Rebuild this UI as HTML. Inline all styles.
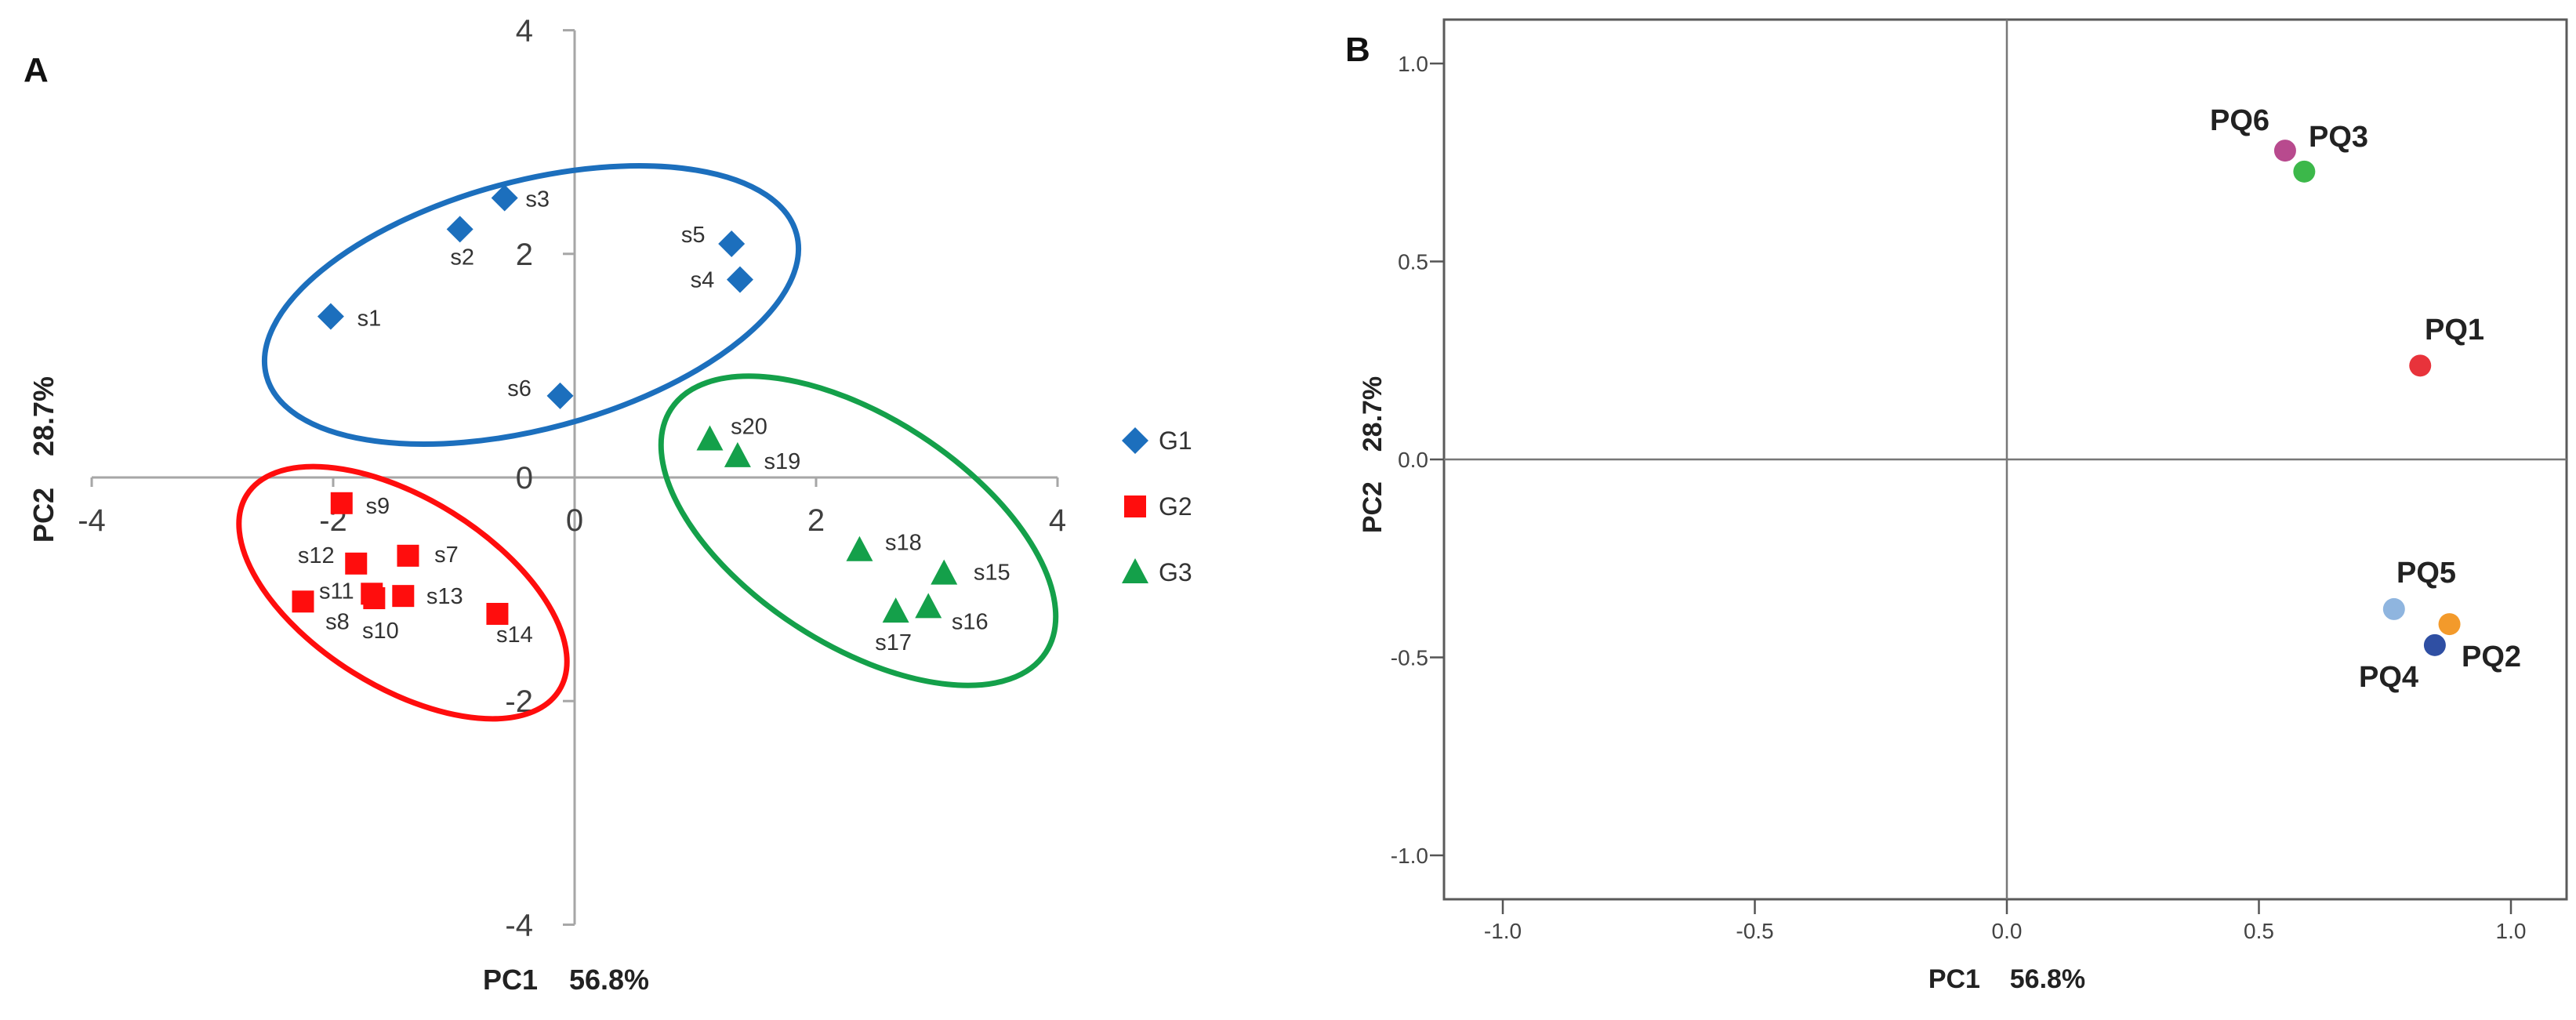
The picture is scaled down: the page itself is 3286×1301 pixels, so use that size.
<!DOCTYPE html>
<html><head><meta charset="utf-8"><style>
html,body{margin:0;padding:0;background:#fff;}
svg{display:block;font-family:"Liberation Sans",Arial,sans-serif;}
</style></head><body>
<svg id="chart" width="3286" height="1301" viewBox="0 0 3286 1301" xmlns="http://www.w3.org/2000/svg">
<g id="panelA"></g>
<g id="panelB"></g>
</svg>
<script>
// ---- Panel A data ----
const sampleNames = ["s1","s2","s3","s4","s5","s6","s7","s8","s9","s10","s11","s12","s13","s14","s15","s16","s17","s18","s19","s20"];
const samplePC1 = [-2.02,-0.95,-0.58,1.37,1.30,-0.12,-1.38,-2.25,-1.93,-1.66,-1.68,-1.81,-1.42,-0.64,3.06,2.93,2.66,2.36,1.35,1.12];
const samplePC2 = [1.44,2.22,2.50,1.77,2.09,0.73,-0.70,-1.11,-0.23,-1.08,-1.04,-0.77,-1.06,-1.22,-0.86,-1.16,-1.20,-0.65,0.19,0.34];
const sampleGroup = ["G1","G1","G1","G1","G1","G1","G2","G2","G2","G2","G2","G2","G2","G2","G3","G3","G3","G3","G3","G3"];
const groupNames = ["G1","G2","G3"];
const axisATicks = [-4,-2,0,2,4];
// ---- Panel B data ----
const varNames = ["PQ1","PQ2","PQ3","PQ4","PQ5","PQ6"];
const varPC1 = [0.82,0.878,0.59,0.849,0.768,0.552];
const varPC2 = [0.237,-0.416,0.727,-0.469,-0.378,0.78];
const axisBTicks = [-1.0,-0.5,0.0,0.5,1.0];

// styling (not data)
const labelOffsets = [[49,2],[3,35],[42,1],[-48,0],[-49,-12],[-52,-10],[49,-2],[44,25],[46,3],[8,41],[-45,-4],[-51,-11],[53,0],[22,26],[61,-2],[53,18],[-3,39],[56,-10],[57,6],[50,-17]];
const groupColors = {G1:"#1c6fbd",G2:"#ff0d0d",G3:"#14a04a"};
const varColors = ["#e8333b","#f39a2b","#3cb84a","#2f4fa3","#8fb5df","#b84a8e"];
const varLabelPos = [[3093,433,"start"],[3140,850,"start"],[2945,187,"start"],[3009,876,"start"],[3057,743,"start"],[2819,166,"start"]];

const NS="http://www.w3.org/2000/svg";
function mk(tag, attrs, parent){const e=document.createElementNS(NS,tag);for(const k in attrs)e.setAttribute(k,attrs[k]);parent.appendChild(e);return e;}

const A=document.getElementById('panelA');
const xA=v=>733+v*154, yA=v=>609-v*142.6;
let e=mk('line',{x1:xA(-4),y1:yA(0),x2:xA(4),y2:yA(0),stroke:'#a6a6a6','stroke-width':3},A);


e=mk('line',{x1:xA(0),y1:yA(4),x2:xA(0),y2:yA(-4),stroke:'#a6a6a6','stroke-width':3},A);


axisATicks.forEach(t=>{
  let l=mk('line',{x1:xA(t),y1:yA(0),x2:xA(t),y2:yA(0)+12,stroke:'#a6a6a6','stroke-width':3},A);
  
  
  l=mk('line',{x1:xA(0)-15,y1:yA(t),x2:xA(0),y2:yA(t),stroke:'#a6a6a6','stroke-width':3},A);
  
  
  let tx=mk('text',{x:xA(t),y:yA(0)+68,'text-anchor':'middle','font-size':40,fill:'#404040'},A);
  tx.textContent=String(t);
  
  
  tx=mk('text',{x:680,y:yA(t)+14,'text-anchor':'end','font-size':40,fill:'#404040'},A);
  tx.textContent=String(t);
  
  
});
[["G1",678,389,350,158,-15],["G2",514,756,235,120,32],["G3",1095,677,285,145,33]].forEach(g=>{
  const el=mk('ellipse',{cx:g[1],cy:g[2],rx:g[3],ry:g[4],transform:`rotate(${g[5]} ${g[1]} ${g[2]})`,fill:'none',stroke:groupColors[g[0]],'stroke-width':7},A);
  
  
});
function marker(g,cx,cy,parent){
  const c=groupColors[g];
  if(g==="G1") return mk('polygon',{points:`${cx},${cy-17} ${cx+17},${cy} ${cx},${cy+17} ${cx-17},${cy}`,fill:c},parent);
  if(g==="G2") return mk('rect',{x:cx-14,y:cy-14,width:28,height:28,fill:c},parent);
  return mk('polygon',{points:`${cx},${cy-18} ${cx+17},${cy+14} ${cx-17},${cy+14}`,fill:c},parent);
}
sampleNames.forEach((n,i)=>{
  const cx=xA(samplePC1[i]), cy=yA(samplePC2[i]);
  const m=marker(sampleGroup[i],cx,cy,A);
  
  
  const t=mk('text',{x:cx+labelOffsets[i][0],y:cy+labelOffsets[i][1]+10,'text-anchor':'middle','font-size':29,fill:'#333'},A);
  t.textContent=n;
  
  
});
groupNames.forEach((g,i)=>{
  const cy=562+i*84;
  const m=marker(g,1448,cy,A);
  
  
  const t=mk('text',{x:1478,y:cy+11,'font-size':32,fill:'#333'},A);
  t.textContent=g;
  
  
});
e=mk('text',{x:30,y:104,'font-size':44,'font-weight':'bold',fill:'#111'},A);e.textContent='A';


e=mk('text',{x:0,y:0,transform:'translate(68,586) rotate(-90)','text-anchor':'middle','font-size':36,'font-weight':'bold',fill:'#222'},A);e.textContent='PC2\u00a0\u00a0\u00a0\u00a028.7%';


e=mk('text',{x:722,y:1262,'text-anchor':'middle','font-size':36,'font-weight':'bold',fill:'#222'},A);e.textContent='PC1\u00a0\u00a0\u00a0\u00a056.8%';



// ---- Panel B ----
const B=document.getElementById('panelB');
const xB=v=>2560+v*643, yB=v=>586-v*505;
e=mk('rect',{x:1842,y:25,width:1432,height:1122,fill:'none',stroke:'#5a5a5a','stroke-width':3},B);


e=mk('line',{x1:1842,y1:yB(0),x2:3274,y2:yB(0),stroke:'#777','stroke-width':2.5},B);


e=mk('line',{x1:xB(0),y1:25,x2:xB(0),y2:1147,stroke:'#777','stroke-width':2.5},B);


axisBTicks.forEach(t=>{
  let l=mk('line',{x1:xB(t),y1:1147,x2:xB(t),y2:1166,stroke:'#555','stroke-width':2.5},B);
  
  
  l=mk('line',{x1:1824,y1:yB(t),x2:1842,y2:yB(t),stroke:'#555','stroke-width':2.5},B);
  
  
  let tx=mk('text',{x:xB(t),y:1197,'text-anchor':'middle','font-size':28,fill:'#444'},B);
  tx.textContent=t.toFixed(1);
  
  
  tx=mk('text',{x:1822,y:yB(t)+10,'text-anchor':'end','font-size':28,fill:'#444'},B);
  tx.textContent=t.toFixed(1);
  
  
});
varNames.forEach((n,i)=>{
  const c=mk('circle',{cx:xB(varPC1[i]),cy:yB(varPC2[i]),r:14,fill:varColors[i]},B);
  
  
  const p=varLabelPos[i];
  const t=mk('text',{x:p[0],y:p[1],'font-size':38,'font-weight':'bold',fill:'#222'},B);
  t.textContent=n;
  
  
});
e=mk('text',{x:1716,y:78,'font-size':44,'font-weight':'bold',fill:'#111'},B);e.textContent='B';


e=mk('text',{x:0,y:0,transform:'translate(1762,580) rotate(-90)','text-anchor':'middle','font-size':34,'font-weight':'bold',fill:'#222'},B);e.textContent='PC2\u00a0\u00a0\u00a0\u00a028.7%';


e=mk('text',{x:2560,y:1260,'text-anchor':'middle','font-size':34,'font-weight':'bold',fill:'#222'},B);e.textContent='PC1\u00a0\u00a0\u00a0\u00a056.8%';


</script>
</body></html>
